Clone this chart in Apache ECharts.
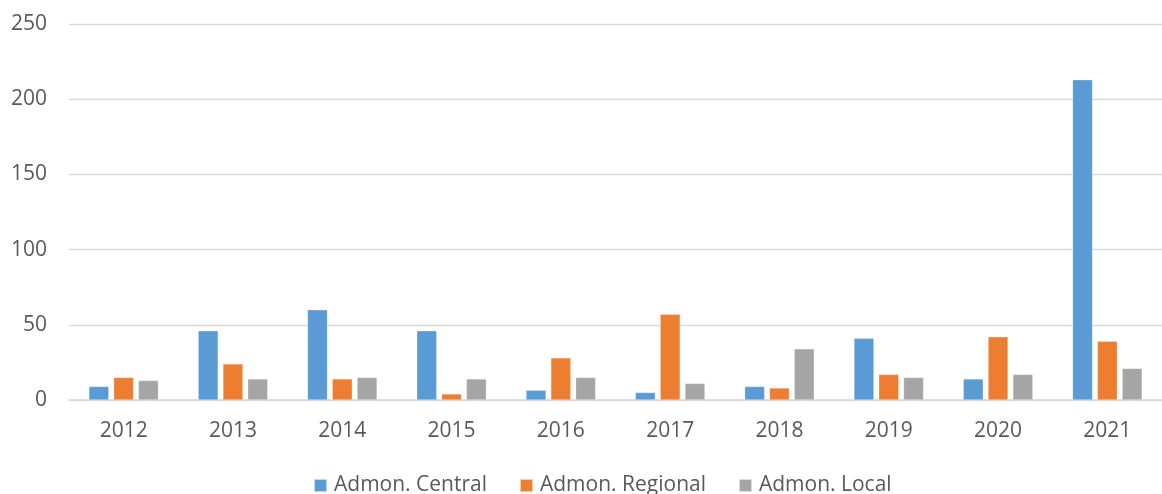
<!DOCTYPE html>
<html>
<head>
<meta charset="utf-8">
<script src="https://cdn.jsdelivr.net/npm/echarts@6/dist/echarts.min.js"></script>
<style>
  html, body { margin: 0; padding: 0; background: #fff; }
  #chart { width: 1162px; height: 494px; }
</style>
</head>
<body>
<div id="chart"></div>
<script>
// años
const years = ['2012', '2013', '2014', '2015', '2016', '2017', '2018', '2019', '2020', '2021'];
const central = [9, 46, 60, 46, 6.5, 5, 9, 41, 14, 213];
const regional = [15, 24, 14, 4, 28, 57, 8, 17, 42, 39];
const local = [13, 14, 15, 14, 15, 11, 34, 15, 17, 21];
const yTicks = [0, 50, 100, 150, 200, 250];

const chart = echarts.init(document.getElementById('chart'));

const barStyle = (color) => ({
    color: color,
    borderColor: 'rgba(255,255,255,0.6)',
    borderWidth: 0.5
});

chart.setOption({
    textStyle: { fontFamily: 'Open Sans' },
    grid: {
        left: 69,
        right: -12,
        top: 24,
        bottom: 94
    },
    legend: {
        top: 470,
        left: 308,
        itemWidth: 13,
        itemHeight: 13,
        itemGap: 32,
        icon: 'rect',
        textStyle: { color: '#595959', fontSize: 21, fontFamily: 'Open Sans', padding: [0, 0, 0, 2] },
        data: ['Admon. Central', 'Admon. Regional', 'Admon. Local']
    },
    xAxis: {
        type: 'category',
        data: years,
        axisLine: { lineStyle: { color: '#d9d9d9', width: 1.5 } },
        axisTick: { show: false },
        axisLabel: { color: '#595959', fontSize: 21, margin: 21 }
    },
    yAxis: {
        type: 'value',
        min: yTicks[0],
        max: yTicks[yTicks.length - 1],
        interval: 50,
        axisLine: { show: false },
        axisTick: { show: false },
        axisLabel: { color: '#595959', fontSize: 21, margin: 22 },
        splitLine: { lineStyle: { color: '#d9d9d9', width: 1.3 } }
    },
    series: [
        {
            name: 'Admon. Central',
            type: 'bar',
            data: central,
            barWidth: 20,
            barGap: '24%',
            itemStyle: barStyle('#5b9bd5')
        },
        {
            name: 'Admon. Regional',
            type: 'bar',
            data: regional,
            barWidth: 20,
            barGap: '24%',
            itemStyle: barStyle('#ed7d31')
        },
        {
            name: 'Admon. Local',
            type: 'bar',
            data: local,
            barWidth: 20,
            barGap: '24%',
            itemStyle: barStyle('#a5a5a5')
        }
    ]
});
</script>
</body>
</html>
